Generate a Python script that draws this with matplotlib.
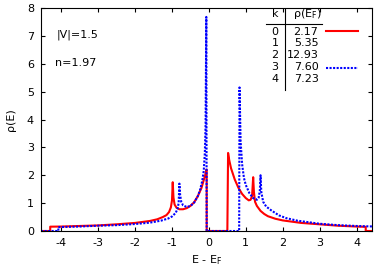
import matplotlib
matplotlib.use("Agg")
import matplotlib.pyplot as plt

plt.rcParams['font.family'] = ['DejaVu Sans']
plt.rcParams['mathtext.default'] = 'regular'
plt.rcParams['axes.unicode_minus'] = False

# density of states
e_red = [-4.55, -4.30, -4.30, -4.0, -3.5, -3.0, -2.5, -2.0, -1.6, -1.4, -1.25, -1.15,
         -1.08, -1.03, -1.0, -0.98, -0.96, -0.93, -0.88, -0.8, -0.7, -0.6, -0.5, -0.4,
         -0.3, -0.2, -0.15, -0.1, -0.07, -0.06, -0.06, 0.5, 0.52, 0.55, 0.6, 0.7, 0.8,
         0.9, 1.0, 1.08, 1.13, 1.17, 1.2, 1.22, 1.25, 1.3, 1.4, 1.5, 1.6, 1.8, 2.0, 2.5,
         3.0, 3.5, 4.0, 4.25, 4.25, 4.5]
rho_red = [0, 0, 0.155, 0.16, 0.18, 0.2, 0.24, 0.29, 0.36, 0.42, 0.5, 0.57,
           0.68, 0.85, 1.1, 1.75, 1.2, 0.95, 0.84, 0.78, 0.78, 0.82, 0.9, 1.03,
           1.25, 1.55, 1.78, 2.0, 2.2, 2.2, 0, 0, 2.8, 2.55, 2.25, 1.85, 1.55,
           1.33, 1.18, 1.1, 1.12, 1.25, 1.93, 1.4, 1.05, 0.9, 0.72, 0.61, 0.53, 0.44, 0.38, 0.29,
           0.24, 0.19, 0.16, 0.15, 0, 0]

e_blue = [-4.55, -4.08, -4.08, -3.5, -3.0, -2.5, -2.0, -1.6, -1.3, -1.1, -1.0, -0.9,
          -0.85, -0.82, -0.8, -0.78, -0.75, -0.7, -0.6, -0.5, -0.4, -0.3, -0.24, -0.18,
          -0.14, -0.11, -0.09, -0.07, -0.06, 0.82, 0.83, 0.86, 0.9, 0.95, 1.0, 1.1, 1.2,
          1.3, 1.35, 1.38, 1.40, 1.42, 1.47, 1.55, 1.7, 1.9, 2.1, 2.4, 3.0, 3.5, 4.0, 4.5]
rho_blue = [0, 0, 0.14, 0.16, 0.19, 0.21, 0.25, 0.3, 0.37, 0.45, 0.52, 0.65,
            0.8, 1.0, 1.7, 1.3, 1.05, 0.92, 0.86, 0.9, 1.02, 1.25, 1.47, 1.8,
            2.15, 2.8, 3.8, 7.68, 0, 0, 5.15, 3.2, 2.4, 1.9, 1.65, 1.35, 1.18,
            1.12, 1.2, 1.45, 2.0, 1.4, 1.05, 0.88, 0.73, 0.56, 0.46, 0.37, 0.26, 0.21, 0.18, 0.16]

k_vals = ["0", "1", "2", "3", "4"]
rho_ef = ["2.17", "5.35", "12.93", "7.60", "7.23"]

W, H = 374, 270
fig = plt.figure(figsize=(W / 100, H / 100), dpi=100)
ax = fig.add_axes([41 / W, 1 - 231 / H, (372 - 41) / W, 223 / H])

ax.plot(e_red, rho_red, color="#ff0000", lw=1.5)
ax.plot(e_blue, rho_blue, color="#0000ff", lw=1.5, ls=(0, (1, 0.7)))

ax.set_xlim(-4.55, 4.42)
ax.set_ylim(0, 8)
ax.set_xticks(range(-4, 5))
ax.set_yticks(range(0, 9))
ax.tick_params(direction="in", length=3, top=True, right=True, labelsize=8, pad=5)
for s in ax.spines.values():
    s.set_linewidth(0.8)
ax.set_xlabel("E - E$_{\\rm F}$", fontsize=8, labelpad=4)
ax.set_ylabel("ρ(E)", fontsize=8, labelpad=8)


def px(x, y):
    return x / W, 1 - y / H


fig.text(*px(57, 35), "|V|=1.5", fontsize=8, va="center")
fig.text(*px(55, 63), "n=1.97", fontsize=8, va="center")

# table-style key
fig.text(*px(275, 14), "k", fontsize=8, ha="center", va="center")
fig.text(*px(307, 14), "ρ(E$_{\\rm F}$)", fontsize=8, ha="center", va="center")
row_y = [31.7, 43.5, 55.2, 67.2, 79.2]
for k, r, y in zip(k_vals, rho_ef, row_y):
    fig.text(*px(275, y), k, fontsize=8, ha="center", va="center")
    fig.text(*px(318.5, y), r, fontsize=8, ha="right", va="center")
fig.add_artist(plt.Line2D([266 / W, 322 / W], [1 - 23.5 / H, 1 - 23.5 / H], color="black", lw=0.8))
fig.add_artist(plt.Line2D([285 / W, 285 / W], [1 - 8.5 / H, 1 - 90 / H], color="black", lw=0.8))
fig.add_artist(plt.Line2D([326 / W, 358 / W], [1 - 31 / H, 1 - 31 / H], color="#ff0000", lw=1.5))
fig.add_artist(plt.Line2D([326 / W, 358 / W], [1 - 68 / H, 1 - 68 / H], color="#0000ff", lw=1.5,
                          ls=(0, (1, 0.7))))

fig.savefig("out.png", dpi=100)
